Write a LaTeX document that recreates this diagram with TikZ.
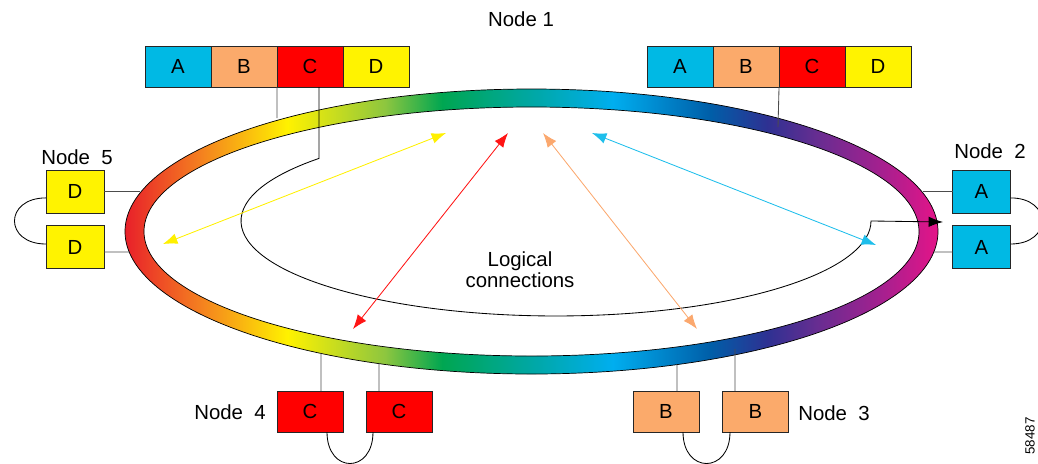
\documentclass[tikz,border=0pt]{standalone}
\usepackage{fontspec}
\setmainfont{Liberation Sans}
\usepackage{tikz}
\usetikzlibrary{arrows.meta,positioning}

\definecolor{cellA}{RGB}{0,185,228}
\definecolor{cellB}{RGB}{251,170,107}
\definecolor{cellC}{RGB}{255,0,0}
\definecolor{cellD}{RGB}{255,243,0}
\definecolor{linkY}{RGB}{255,240,0}
\definecolor{linkR}{RGB}{255,20,20}
\definecolor{linkB}{RGB}{251,168,110}
\definecolor{linkA}{RGB}{30,190,235}

\pgfdeclarehorizontalshading{ringshade}{100bp}{%
  color(0bp)=(rgb,255:red,232;green,32;blue,42);
  color(25bp)=(rgb,255:red,232;green,32;blue,42);
  color(29.5bp)=(rgb,255:red,244;green,125;blue,32);
  color(35bp)=(rgb,255:red,255;green,242;blue,0);
  color(41bp)=(rgb,255:red,141;green,198;blue,63);
  color(44.5bp)=(rgb,255:red,0;green,166;blue,81);
  color(49.5bp)=(rgb,255:red,0;green,167;blue,157);
  color(55bp)=(rgb,255:red,0;green,174;blue,239);
  color(61bp)=(rgb,255:red,0;green,94;blue,168);
  color(64.5bp)=(rgb,255:red,46;green,49;blue,146);
  color(67.5bp)=(rgb,255:red,102;green,45;blue,145);
  color(71.5bp)=(rgb,255:red,165;green,32;blue,143);
  color(75bp)=(rgb,255:red,228;green,20;blue,136);
  color(100bp)=(rgb,255:red,228;green,20;blue,136)}

\tikzset{
  cell/.style={draw=black!85, line width=0.6pt, inner sep=0pt, outer sep=0pt,
    minimum width=1.65cm, minimum height=1.025cm, font=\fontsize{14.5}{17}\selectfont},
  port/.style={cell, minimum width=1.45cm, minimum height=1.075cm},
  drop/.style={draw=black!70, line width=0.6pt},
  wrap/.style={draw=black, line width=0.6pt},
  nodename/.style={inner sep=0pt, font=\fontsize{14.5}{17}\selectfont},
  logical/.style={line width=0.6pt, {Latex[length=0.36cm,width=0.27cm]}-{Latex[length=0.36cm,width=0.27cm]}}
}

\begin{document}
\begin{tikzpicture}[x=0.025cm, y=-0.025cm]
\useasboundingbox (0,0) rectangle (1038,463);
%% ring
\shade[shading=ringshade, even odd rule] (531.5,231.5) ellipse [x radius=406.5, y radius=142.5]
  (531.5,231.5) ellipse [x radius=387.5, y radius=124.5];
\draw[line width=0.5pt] (531.5,231.5) ellipse [x radius=406.5, y radius=142.5];
\draw[line width=0.5pt] (531.5,231.5) ellipse [x radius=387.5, y radius=124.5];
%%------------
\node[nodename] (n1) at (521,19) {Node 1};
\node[cell, fill=cellA] (n1a) at (178,66.5) {A};
\node[cell, fill=cellB, right=0pt of n1a] (n1b) {B};
\node[cell, fill=cellC, right=0pt of n1b] (n1c) {C};
\node[cell, fill=cellD, right=0pt of n1c] (n1d) {D};
\node[cell, fill=cellA] (n1e) at (680,66.5) {A};
\node[cell, fill=cellB, right=0pt of n1e] (n1f) {B};
\node[cell, fill=cellC, right=0pt of n1f] (n1g) {C};
\node[cell, fill=cellD, right=0pt of n1g] (n1h) {D};
%%------------
\node[nodename] (n5) at (77,157) {Node~~5};
\node[port, fill=cellD] (n5a) at (75,191.5) {D};
\node[port, fill=cellD] (n5b) at (75,247) {D};
\node[nodename] (n2) at (990,151) {Node~~2};
\node[port, fill=cellA] (n2a) at (981.5,191.5) {A};
\node[port, fill=cellA] (n2b) at (981.5,247) {A};
%%------------
\node[nodename] (n4) at (230,412) {Node~~4};
\node[cell, fill=cellC] (n4a) at (310,411.5) {C};
\node[cell, fill=cellC] (n4b) at (399,411.5) {C};
\node[nodename] (n3) at (834,413) {Node~~3};
\node[cell, fill=cellB] (n3a) at (666,411.5) {B};
\node[cell, fill=cellB] (n3b) at (755.5,411.5) {B};
%%------------
\coordinate (r1a) at (277,118);
\coordinate (r1b) at (778,127);
\coordinate (r5a) at (140,191.5);
\coordinate (r5b) at (129,252);
\coordinate (r2a) at (923,191.5);
\coordinate (r2b) at (934,252);
\coordinate (r4a) at (321,353);
\coordinate (r4b) at (379,363.5);
\coordinate (r3a) at (677,364.5);
\coordinate (r3b) at (735,349);
\coordinate (r2in) at (943,222);
\draw[drop] (n1b.south east) -- (r1a);
\draw[drop] (n1f.south east) -- (r1b);
\draw[drop] (n5a.east) -- (r5a);
\draw[drop] ([yshift=-0.125cm]n5b.east) -- (r5b);
\draw[drop] (n2a.west) -- (r2a);
\draw[drop] ([yshift=-0.125cm]n2b.west) -- (r2b);
\draw[drop] ([xshift=0.275cm]n4a.north) -- (r4a);
\draw[drop] ([xshift=-0.5cm]n4b.north) -- (r4b);
\draw[drop] ([xshift=0.275cm]n3a.north) -- (r3a);
\draw[drop] ([xshift=-0.5125cm]n3b.north) -- (r3b);
%% loops
\draw[wrap] ([yshift=-0.16cm]n5a.west) .. controls +(-1.05cm,0) and +(-1.05cm,0) .. ([yshift=0.075cm]n5b.west);
\draw[wrap] ([yshift=-0.16cm]n2a.east) .. controls +(1.05cm,0) and +(1.05cm,0) .. ([yshift=0.075cm]n2b.east);
\draw[wrap] ([xshift=0.425cm]n4a.south) .. controls +(0,-1.05cm) and +(0,-1.05cm) .. ([xshift=-0.65cm]n4b.south);
\draw[wrap] ([xshift=0.425cm]n3a.south) .. controls +(0,-1.05cm) and +(0,-1.05cm) .. ([xshift=-0.6375cm]n3b.south);
%% logical ring
\draw[line width=0.6pt, -{Latex[length=0.36cm,width=0.26cm]}] ([xshift=0.225cm]n1c.south) -- (319,158.4)
  arc[start angle=221.2, end angle=0, x radius=315, y radius=95] -- (r2in);
%%------------
\coordinate (yt) at (446,133);
\coordinate (yb) at (163,244);
\coordinate (rt) at (508,133);
\coordinate (rb) at (353,329);
\coordinate (bt) at (543,133);
\coordinate (bb) at (697,329);
\coordinate (at) at (592,133);
\coordinate (ab) at (876,245);
\draw[logical, linkY] (yb) -- (yt);
\draw[logical, linkR] (rb) -- (rt);
\draw[logical, linkB] (bb) -- (bt);
\draw[logical, linkA] (ab) -- (at);
\node[nodename, align=center, font=\fontsize{14.5}{15}\selectfont] (lc) at (520,269.5) {Logical\\connections};
\node[rotate=90, inner sep=0pt, font=\fontsize{9.5}{11}\selectfont] (fig) at (1030,436) {58487};
\end{tikzpicture}
\end{document}
